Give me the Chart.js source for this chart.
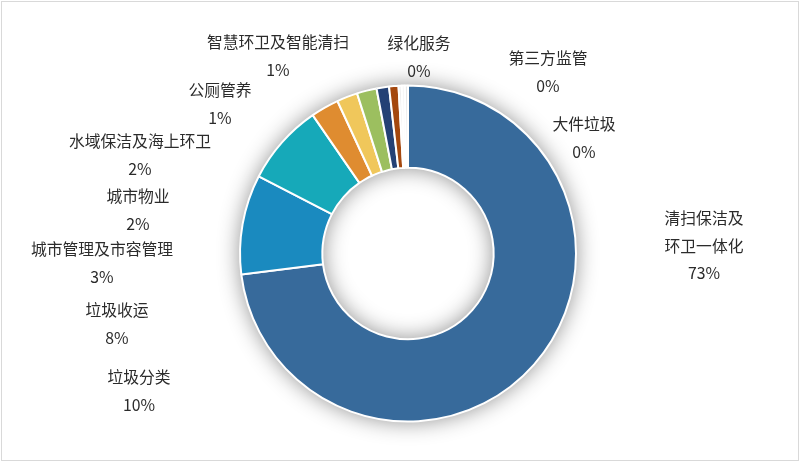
<!DOCTYPE html>
<html>
<head>
<meta charset="utf-8">
<script src="https://cdn.jsdelivr.net/npm/chart.js@4"></script>
<style>
html,body{margin:0;padding:0;background:#fff;}
#wrap{width:800px;height:462px;position:relative;}
</style>
</head>
<body>
<div id="wrap"><canvas id="c" width="800" height="462"></canvas></div>
<script>
// ---- data ----
const categories = ['清扫保洁及\n环卫一体化','垃圾分类','垃圾收运','城市管理及市容管理','城市物业','水域保洁及海上环卫','公厕管养','智慧环卫及智能清扫','绿化服务','第三方监管','大件垃圾'];
const shares = [73.0, 9.6, 7.8, 2.7, 2.0, 1.9, 1.2, 0.9, 0.3, 0.3, 0.3];
const sliceColors = ['#376a9b','#1a8abf','#16a9b9','#df8c30','#f0c75b','#9cbf5f','#244175','#a4480f','#eeeeee','#f6f6f6','#e6e6e6'];

// label layout (offset of first text line from doughnut centre, px)
const labelOffsets = [[296,-35.5],[-269,123.5],[-291,56.5],[-306,-4.5],[-270,-57.5],[-268,-112.5],[-188,-163.5],[-130,-211.5],[11,-210.5],[140,-195.5],[176,-129.5]];

const frame = {
  id:'frame',
  beforeDraw(chart){
    const ctx = chart.ctx;
    ctx.save();
    ctx.fillStyle = '#fff';
    ctx.fillRect(0,0,chart.width,chart.height);
    ctx.strokeStyle = '#d9d9d9';
    ctx.lineWidth = 1;
    ctx.strokeRect(1.5,1.5,chart.width-3,chart.height-3);
    ctx.restore();
  }
};

const ringShadow = {
  id:'ringShadow',
  beforeDatasetsDraw(chart){
    const meta = chart.getDatasetMeta(0);
    const arc = meta.data[0];
    if(!arc) return;
    const {x,y,outerRadius,innerRadius} = arc.getProps(['x','y','outerRadius','innerRadius'],true);
    const ctx = chart.ctx;
    ctx.save();
    ctx.shadowColor = 'rgba(0,0,0,0.45)';
    ctx.shadowBlur = 22;
    ctx.fillStyle = '#fff';
    ctx.beginPath();
    ctx.arc(x,y,outerRadius,0,Math.PI*2,false);
    ctx.arc(x,y,innerRadius,0,Math.PI*2,true);
    ctx.closePath();
    ctx.fill();
    ctx.restore();
  }
};

const sliceLabels = {
  id:'sliceLabels',
  afterDatasetsDraw(chart){
    const meta = chart.getDatasetMeta(0);
    const arc = meta.data[0];
    const cx = arc.x, cy = arc.y;
    const total = shares.reduce((a,b)=>a+b,0);
    const ctx = chart.ctx;
    ctx.save();
    ctx.fillStyle = '#2b2b2b';
    ctx.font = '15.8px "Noto Sans CJK SC", "Noto Sans", sans-serif';
    ctx.textAlign = 'center';
    ctx.textBaseline = 'middle';
    const step = 27.5;
    categories.forEach((name,i)=>{
      const lines = name.split('\n');
      lines.push(Math.round(shares[i]/total*100)+'%');
      const [dx,dy] = labelOffsets[i];
      lines.forEach((t,k)=>{
        ctx.fillText(t, cx+dx, cy+dy+k*step);
      });
    });
    ctx.restore();
  }
};

new Chart(document.getElementById('c'),{
  type:'doughnut',
  data:{
    labels:categories,
    datasets:[{
      data:shares,
      backgroundColor:sliceColors,
      borderColor:'#ffffff',
      borderWidth:2
    }]
  },
  options:{
    responsive:false,
    animation:false,
    radius:168,
    cutout:'51%',
    layout:{padding:{left:240,right:224,top:85.5,bottom:40.5}},
    plugins:{legend:{display:false},tooltip:{enabled:false}}
  },
  plugins:[frame,ringShadow,sliceLabels]
});
</script>
</body>
</html>
